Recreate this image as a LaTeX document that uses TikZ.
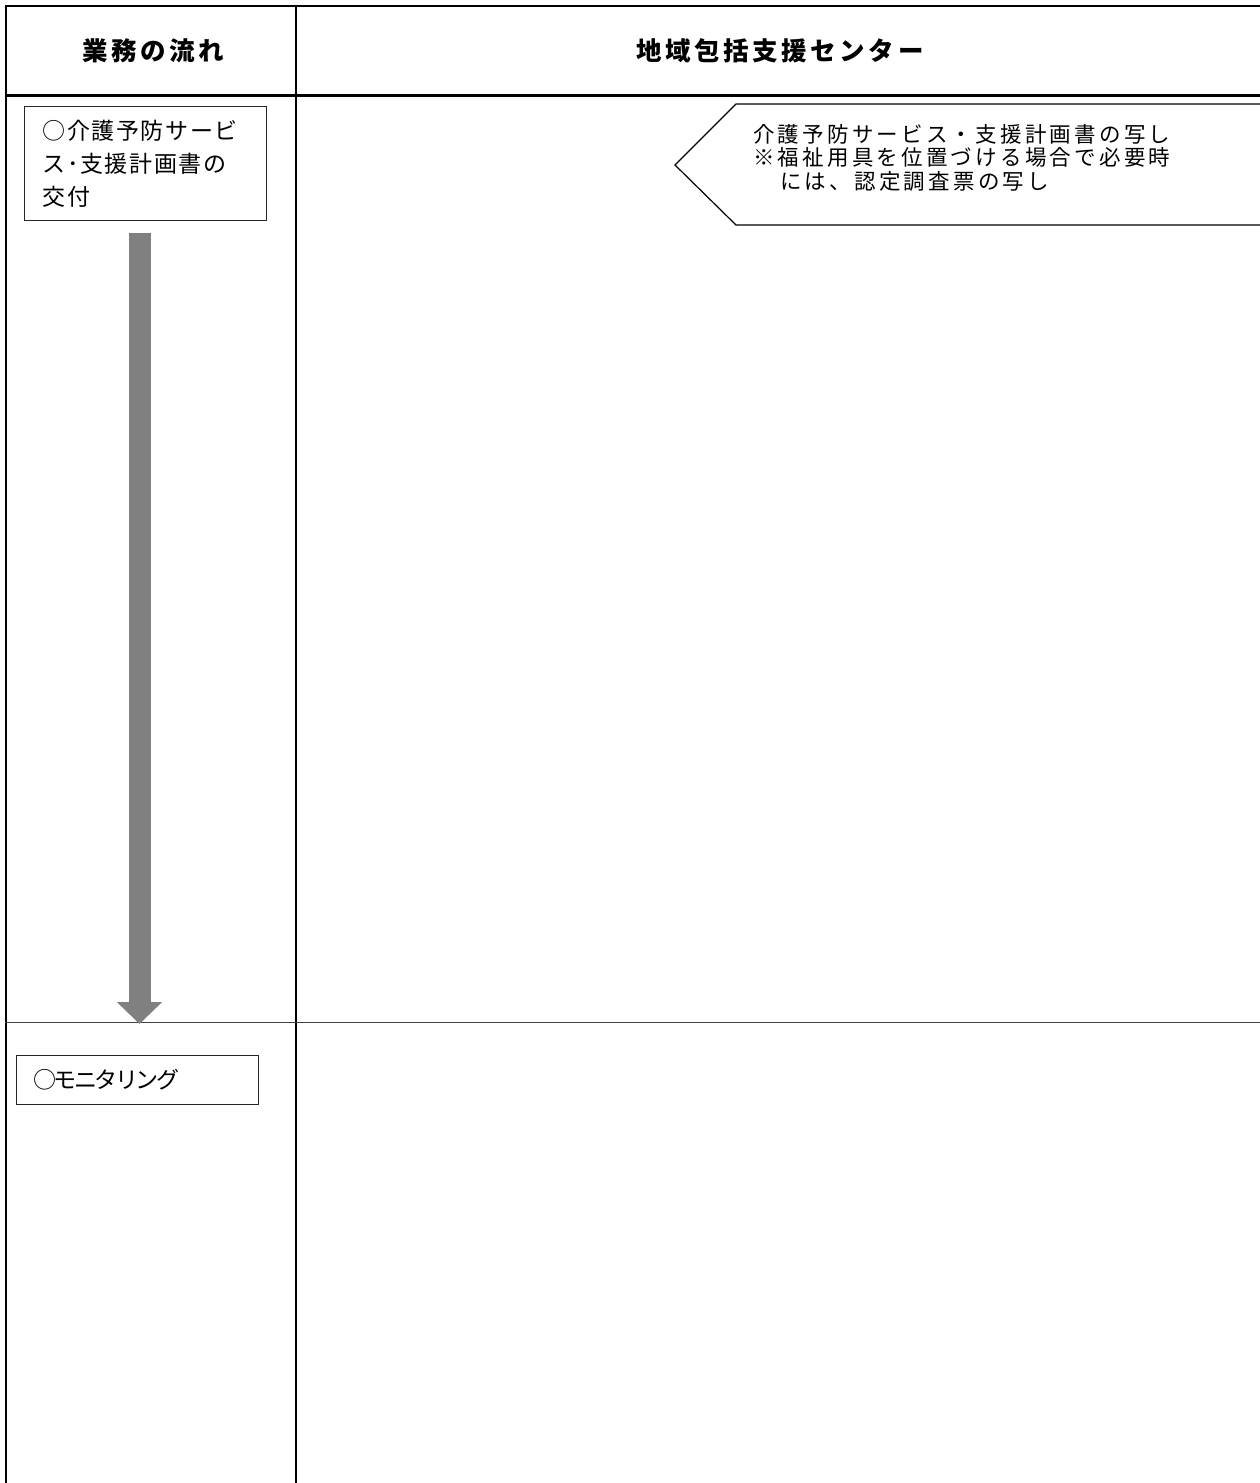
\documentclass[tikz,border=0pt]{standalone}
\usepackage{fontspec}
\usetikzlibrary{arrows.meta}
\setmainfont{Noto Sans CJK JP}
\newfontfamily\headfont[LetterSpace=14]{Noto Sans CJK JP}
\newfontfamily\boxfont[LetterSpace=7]{Noto Sans CJK JP}
\newfontfamily\monfont[LetterSpace=-11]{Noto Sans CJK JP}
\newfontfamily\notefont[LetterSpace=15]{Noto Sans CJK JP}
\definecolor{arrowgray}{RGB}{128,128,128}
\begin{document}
\begin{tikzpicture}[x=1pt,y=-1pt,
  frame/.style={line width=2pt,black},
  headtext/.style={font=\headfont\bfseries\fontsize{25.5pt}{29pt}\selectfont,inner sep=0pt},
  flowbox/.style={draw=black!85,line width=1pt,align=left,anchor=north west,inner ysep=0pt},
  notetext/.style={font=\notefont\fontsize{21.5pt}{23.5pt}\selectfont,align=left,anchor=north west,inner sep=0pt}]
\useasboundingbox (0,0) rectangle (1260,1483);
% table frame
\draw[frame] (5,6) -- (1262,6);
\draw[frame] (6,5) -- (6,1485);
\draw[line width=3pt] (5,95) -- (1262,95);
\draw[line width=2.3pt] (296,5) -- (296,1485);
\draw[line width=1.6pt,black!75] (5,1022.5) -- (1262,1022.5);
% headers
\node[headtext] (h1) at (153,51) {業務の流れ};
\node[headtext] (h2) at (780,51) {地域包括支援センター};
% flow boxes
\node[flowbox,font=\boxfont\fontsize{23pt}{33pt}\selectfont,
      minimum height=114pt,text width=206pt,inner xsep=18pt] (b1) at (24,106)
  {○介護予防サービ\\ス･支援計画書の\\交付};
\node[flowbox,font=\monfont\fontsize{23pt}{26pt}\selectfont,
      minimum height=49pt,text width=208pt,inner xsep=17pt] (b2) at (16,1055)
  {○モニタリング};
% arrow
\coordinate (astart) at (139.5,233);
\coordinate (aend) at (139.5,1024);
\draw[arrowgray,line width=22pt,-{Triangle[width=44pt,length=22pt]}] (astart) -- (aend);
% callout pentagon
\coordinate (p1) at (675,165);
\coordinate (p2) at (736,104);
\coordinate (p3) at (1265,104);
\coordinate (p4) at (1265,225);
\coordinate (p5) at (736,225);
\draw[line width=1.2pt,black] (p3) -- (p2) -- (p1) -- (p5) -- (p4);
\node[notetext] (note) at (753,124)
  {介護予防サービス・支援計画書の写し\\※福祉用具を位置づける場合で必要時\\\hspace*{27pt}には、認定調査票の写し};
\end{tikzpicture}
\end{document}
